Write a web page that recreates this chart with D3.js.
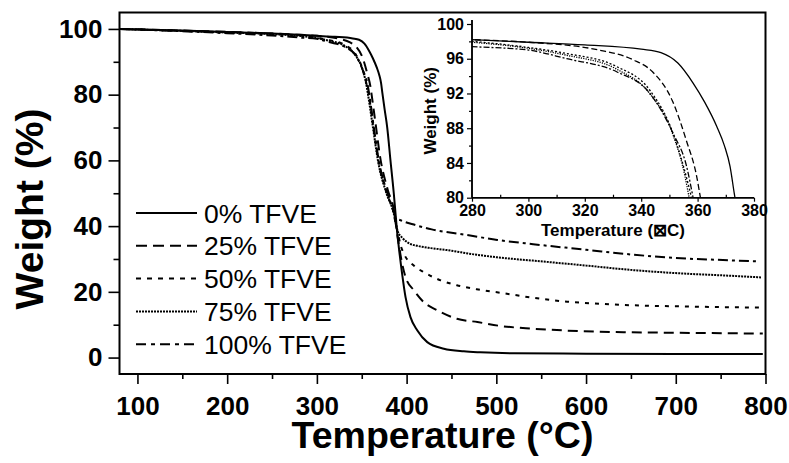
<!DOCTYPE html>
<html>
<head>
<meta charset="utf-8">
<script src="https://cdn.jsdelivr.net/npm/d3@7"></script>
<style>
  body { margin: 0; background: #ffffff; }
  svg { display: block; font-family: 'Liberation Sans', Arial, sans-serif; }
</style>
</head>
<body>
<div id="chart"></div>
<script>
// Series labels.
const seriesNames = ['0% TFVE', '25% TFVE', '50% TFVE', '75% TFVE', '100% TFVE'];

// Temperature (°C) and weight (%), one pair per series.
const temp0 = [80, 150, 200, 250, 280, 300, 320, 340, 347, 353, 358.4, 362.5, 366.8, 369.5, 371.5, 373, 375.5, 378.4, 382, 385.7, 387.6, 389.5, 391.3, 395, 398.8, 404.3, 411.8, 423, 441.5, 463.8, 482, 520, 600, 700, 797];
const weight0 = [100, 99.5, 99.1, 98.6, 98.2, 97.9, 97.6, 97.1, 96.7, 95.5, 93.2, 91, 88.2, 86, 83.6, 80.5, 75.5, 70, 60, 50, 44, 38, 33.6, 25.5, 18.4, 12.3, 8.3, 4.7, 2.7, 1.9, 1.6, 1.3, 1.2, 1.1, 1.1];

const temp25 = [80, 150, 200, 250, 280, 300, 325, 337, 344, 351, 356, 359.7, 361, 365.5, 370.5, 379, 386, 388, 391, 394, 398.8, 408, 419, 434, 456, 479, 505, 540, 579, 650, 720, 797];
const weight25 = [100, 99.5, 99.1, 98.6, 98.2, 97.9, 97.0, 95.9, 94.5, 91.2, 86.6, 82.4, 80, 71, 61, 51, 44.5, 40.5, 35, 30, 24.5, 20.5, 16.9, 14.4, 11.8, 10.8, 9.6, 8.8, 8.2, 7.7, 7.5, 7.3];

const temp50 = [80, 150, 200, 250, 280, 300, 313.6, 331.3, 343, 351.3, 356, 357.8, 363, 368.5, 378, 385.5, 388, 391, 393, 397, 408, 419, 438, 456, 480, 505, 541, 579, 620, 653, 700, 797];
const weight50 = [100, 99.4, 99.0, 98.5, 98.0, 97.3, 96.6, 95.1, 92.4, 87.4, 82.4, 80, 70, 60, 50, 44, 40.5, 37, 34.5, 31.6, 28, 26, 23.5, 22, 20.7, 19.7, 18.2, 17, 16.3, 15.9, 15.6, 15.2];

const temp75 = [80, 150, 200, 250, 280, 300, 313.6, 331.3, 343, 351, 355.5, 357, 362.5, 368, 377.5, 385, 388, 390, 395, 404, 412, 427, 445, 475, 501, 541, 600, 653, 700, 760, 795];
const weight75 = [100, 99.4, 98.9, 98.4, 97.9, 97.2, 96.4, 94.8, 92.0, 87.5, 82.5, 80, 70, 60, 50, 44.5, 41, 38.5, 36.5, 34.6, 34.0, 33.3, 32.7, 31.4, 30.5, 29.5, 28, 26.6, 25.7, 24.9, 24.4];

const temp100 = [80, 150, 200, 250, 280, 300, 313.6, 331.3, 343.1, 351.3, 356.1, 358.4, 363.5, 369, 378, 385, 388, 393, 410, 428, 467, 501, 541, 600, 653, 700, 760, 790];
const weight100 = [100, 99.3, 98.7, 98.0, 97.4, 97.0, 96.0, 94.5, 92.0, 87.4, 83.6, 80, 70, 60, 50.5, 45, 42.5, 41.8, 40.3, 39, 37.3, 35.8, 34.5, 32.8, 31.3, 30.3, 29.6, 29.3];

const temps = [temp0, temp25, temp50, temp75, temp100];
const weights = [weight0, weight25, weight50, weight75, weight100];

// Tick values.
const xTicks = [100, 200, 300, 400, 500, 600, 700, 800];
const yTicks = [0, 20, 40, 60, 80, 100];
const insetXTicks = [280, 300, 320, 340, 360, 380];
const insetYTicks = [80, 84, 88, 92, 96, 100];

// Line styles per series (main, legend, inset).
const mainDash = [null, '10,6', '4,6', '2,1', '10,4,3,4'];
const legendDash = [null, '11,6', '5,6', '2,1', '10,5,4,5'];
const insetDash = [null, '6,3', '2,2', '1.2,1.2', '6,2,2,2'];

const width = 789;
const height = 463;

const svg = d3.select('#chart')
      .append('svg')
      .attr('width', width)
      .attr('height', height)
      .style('background-color', '#ffffff');

const data = seriesNames.map((name, i) => ({
  name: name,
  points: temps[i].map((t, j) => ({t: t, w: weights[i][j]}))
}));

// Main plot.
const plot = {left: 119.5, right: 765.5, top: 12.5, bottom: 374};

const x = d3.scaleLinear().domain([80, 800]).range([plot.left, plot.right]);
const y = d3.scaleLinear().domain([-5, 105]).range([plot.bottom, plot.top]);

svg.append('clipPath')
  .attr('id', 'clip-main')
  .append('rect')
  .attr('x', plot.left)
  .attr('y', plot.top)
  .attr('width', plot.right - plot.left)
  .attr('height', plot.bottom - plot.top);

const line = d3.line()
      .x(d => x(d.t))
      .y(d => y(d.w))
      .curve(d3.curveMonotoneX);

svg.append('g')
  .attr('clip-path', 'url(#clip-main)')
  .selectAll('path')
  .data(data)
  .join('path')
  .attr('fill', 'none')
  .attr('stroke', '#000000')
  .attr('stroke-width', 2)
  .attr('stroke-dasharray', (d, i) => mainDash[i])
  .attr('d', d => line(d.points));

// Axes.
const xAxis = svg.append('g')
      .attr('transform', `translate(0,${plot.bottom})`)
      .call(d3.axisBottom(x).tickValues(xTicks).tickSize(10).tickPadding(13).tickFormat(d3.format('d')));
xAxis.append('g')
  .call(d3.axisBottom(x).tickValues(d3.range(150, 800, 100)).tickSize(5).tickFormat(''));

const yAxis = svg.append('g')
      .attr('transform', `translate(${plot.left},0)`)
      .call(d3.axisLeft(y).tickValues(yTicks).tickSize(11).tickPadding(6).tickFormat(d3.format('d')));
yAxis.append('g')
  .call(d3.axisLeft(y).tickValues(d3.range(10, 100, 20)).tickSize(6).tickFormat(''));

svg.selectAll('.domain').remove();
svg.selectAll('.tick line').attr('stroke', '#000000').attr('stroke-width', 1.6);
xAxis.selectAll('text')
  .attr('font-family', 'Liberation Sans, Arial, sans-serif')
  .attr('font-size', 26)
  .attr('font-weight', 'bold')
  .attr('fill', '#000000');
yAxis.selectAll('text')
  .attr('font-family', 'Liberation Sans, Arial, sans-serif')
  .attr('font-size', 26)
  .attr('font-weight', 'bold')
  .attr('fill', '#000000');

// Frame.
svg.append('rect')
  .attr('x', plot.left)
  .attr('y', plot.top)
  .attr('width', plot.right - plot.left)
  .attr('height', plot.bottom - plot.top)
  .attr('fill', 'none')
  .attr('stroke', '#000000')
  .attr('stroke-width', 2);

// Axis titles.
const xTitle = svg.append('text')
      .attr('x', (plot.left + plot.right) / 2)
      .attr('y', 448)
      .attr('text-anchor', 'middle')
      .attr('font-size', 37.5)
      .attr('font-weight', 'bold')
      .text('Temperature (');
xTitle.append('tspan').text('°');
xTitle.append('tspan').text('C)');

svg.append('text')
  .attr('transform', 'translate(43,209) rotate(-90)')
  .attr('text-anchor', 'middle')
  .attr('font-size', 39)
  .attr('font-weight', 'bold')
  .text('Weight (%)');

// Legend.
const legend = svg.append('g')
      .selectAll('g')
      .data(data)
      .join('g')
      .attr('transform', (d, i) => `translate(136,${213 + i * 32.8})`);

legend.append('line')
  .attr('x1', 0)
  .attr('x2', 61)
  .attr('y1', 0)
  .attr('y2', 0)
  .attr('stroke', '#000000')
  .attr('stroke-width', 2)
  .attr('stroke-dasharray', (d, i) => legendDash[i]);

legend.append('text')
  .attr('x', 68)
  .attr('y', 9.5)
  .attr('font-size', 26.5)
  .text(d => d.name);

// Inset.
const inset = {left: 472, right: 754, top: 24, bottom: 197.7};

const ix = d3.scaleLinear().domain([280, 380]).range([inset.left, inset.right]);
const iy = d3.scaleLinear().domain([80, 100]).range([inset.bottom, inset.top]);

svg.append('clipPath')
  .attr('id', 'clip-inset')
  .append('rect')
  .attr('x', inset.left)
  .attr('y', inset.top - 4)
  .attr('width', inset.right - inset.left)
  .attr('height', inset.bottom - inset.top + 4);

const insetLine = d3.line()
      .x(d => ix(d.t))
      .y(d => iy(d.w))
      .curve(d3.curveMonotoneX);

svg.append('g')
  .attr('clip-path', 'url(#clip-inset)')
  .selectAll('path')
  .data(data)
  .join('path')
  .attr('fill', 'none')
  .attr('stroke', '#000000')
  .attr('stroke-width', 1.3)
  .attr('stroke-dasharray', (d, i) => insetDash[i])
  .attr('d', d => insetLine(d.points));

const ixAxis = svg.append('g')
      .attr('transform', `translate(0,${inset.bottom})`)
      .call(d3.axisBottom(ix).tickValues(insetXTicks).tickSize(4).tickPadding(3).tickFormat(d3.format('d')));
ixAxis.append('g')
  .call(d3.axisTop(ix).tickValues(d3.range(290, 380, 20)).tickSize(3).tickFormat(''));

const iyAxis = svg.append('g')
      .attr('transform', `translate(${inset.left},0)`)
      .call(d3.axisLeft(iy).tickValues(insetYTicks).tickSize(5).tickPadding(3).tickFormat(d3.format('d')));
iyAxis.append('g')
  .call(d3.axisLeft(iy).tickValues(d3.range(82, 100, 4)).tickSize(3).tickFormat(''));

[ixAxis, iyAxis].forEach(ax => {
  ax.selectAll('.domain').attr('stroke', '#000000').attr('stroke-width', 1.5);
  ax.selectAll('.tick line').attr('stroke', '#000000').attr('stroke-width', 1.2);
  ax.selectAll('text')
    .attr('font-family', 'Liberation Sans, Arial, sans-serif')
    .attr('font-size', 16)
    .attr('font-weight', 'bold')
    .attr('fill', '#000000');
});
ixAxis.selectAll('.domain').attr('d', `M${inset.left},0H${inset.right}`);
iyAxis.selectAll('.domain').attr('d', `M0,${inset.top - 4}V${inset.bottom}`);

svg.append('text')
  .attr('x', (inset.left + inset.right) / 2)
  .attr('y', 236)
  .attr('text-anchor', 'middle')
  .attr('font-size', 17)
  .attr('font-weight', 'bold')
  .text('Temperature (⊠C)');

svg.append('text')
  .attr('transform', `translate(436,${(inset.top + inset.bottom) / 2}) rotate(-90)`)
  .attr('text-anchor', 'middle')
  .attr('font-size', 17)
  .attr('font-weight', 'bold')
  .text('Weight (%)');
</script>
</body>
</html>
